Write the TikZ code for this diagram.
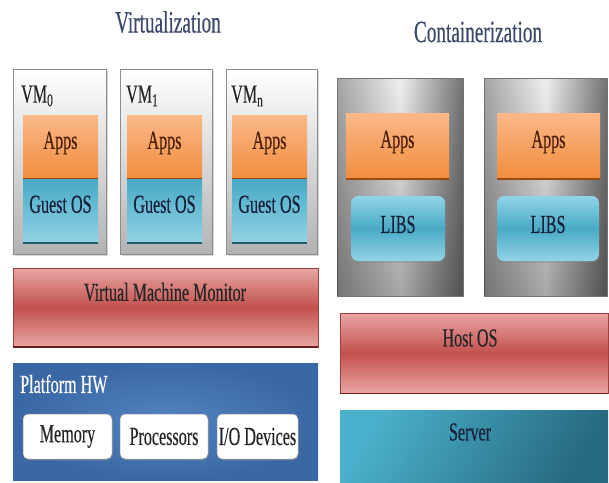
\documentclass[tikz,border=0pt]{standalone}
\usepackage{fontspec}
\setmainfont{Liberation Serif}[FakeStretch=0.62, FakeBold=0.35]
\usetikzlibrary{shadows,fadings}
\definecolor{titlecol}{HTML}{3B4A6B}
\definecolor{appslight}{HTML}{FAB988}
\definecolor{appsdark}{HTML}{F28C3E}
\definecolor{appsline}{HTML}{9C4A12}
\definecolor{appstext}{HTML}{4A1E0A}
\definecolor{cyandark}{HTML}{49AAC5}
\definecolor{cyanlight}{HTML}{92D4E6}
\definecolor{cyanline}{HTML}{215967}
\definecolor{redlight}{HTML}{E9A5A3}
\definecolor{reddark}{HTML}{C2514E}
\definecolor{redline}{HTML}{6E1F1D}
\definecolor{hwblue}{HTML}{3A68A4}
\definecolor{hwbluelight}{HTML}{5283C0}
\definecolor{serverlight}{HTML}{4BB0CB}
\definecolor{serverdark}{HTML}{276A80}
\definecolor{darktext}{HTML}{16213A}
\newcommand\mybodyfont{\fontsize{26}{30}\selectfont}
\newcommand\mytitlefont{\fontsize{31}{34}\selectfont}
\tikzset{
  boxbase/.style={rectangle, anchor=north west, inner sep=0pt, outer sep=0pt},
  vmframe/.style={boxbase, draw=black!45, line width=0.6pt, top color=white, bottom color=black!30,
    drop shadow={opacity=0.3, shadow xshift=2pt, shadow yshift=-2pt}},
  ctframe/.style={boxbase, draw=black!55, line width=0.6pt, left color=black!35, right color=black!55, middle color=black!6},
  ctshade/.style={fill=black, opacity=0.3, path fading=north},
  appsbox/.style={boxbase, top color=appslight, bottom color=appsdark},
  guestbox/.style={boxbase, top color=cyandark, bottom color=cyanlight},
  libsbox/.style={boxbase, rounded corners=7pt, top color=cyanlight, bottom color=cyanlight, middle color=cyandark,
    drop shadow={opacity=0.45, shadow xshift=0pt, shadow yshift=-1.5pt}},
  redbox/.style={boxbase, draw=reddark!80!black, line width=0.4pt, top color=redlight, bottom color=redlight, middle color=reddark},
  hwbox/.style={boxbase, shading=radial, inner color=hwbluelight, outer color=hwblue},
  serverbox/.style={boxbase, left color=serverlight, right color=serverdark, shading angle=60},
  devbox/.style={boxbase, rounded corners=5pt, fill=white, draw=black!40, line width=0.5pt,
    drop shadow={opacity=0.35, shadow xshift=1pt, shadow yshift=-1.5pt}},
  txt/.style={inner sep=0pt, font=\mybodyfont, text=darktext},
  appstxt/.style={txt, text=appstext},
  titletxt/.style={inner sep=0pt, font=\mytitlefont, text=titlecol},
  edgeline/.style={line width=1.6pt},
}
\begin{document}
\begin{tikzpicture}[x=1pt,y=-1pt]
\useasboundingbox (0,0) rectangle (609,482);
\fill[white] (0,0) rectangle (609,482);

% titles
\node[titletxt] (t-virt) at (168,22) {Virtualization};
\node[titletxt] (t-cont) at (478,32) {Containerization};

% VM frames
\node[vmframe, minimum width=93, minimum height=185] (vm0) at (13,69) {};
\node[vmframe, minimum width=92, minimum height=185] (vm1) at (120,69) {};
\node[vmframe, minimum width=91, minimum height=185] (vmn) at (226,69) {};

\node[txt, anchor=west, text=black!85] (vm0-l) at (21,96) {VM\textsubscript{0}};
\node[txt, anchor=west, text=black!85] (vm1-l) at (126,96) {VM\textsubscript{1}};
\node[txt, anchor=west, text=black!85] (vmn-l) at (231,96) {VM\textsubscript{n}};

% Apps / Guest OS in VMs
\foreach \nm/\x/\w in {a/23/75, b/127/75, c/232/75}{
  \node[appsbox, minimum width=\w, minimum height=64] (apps-\nm) at (\x,115) {};
  \draw[appsline, edgeline] (apps-\nm.south west) -- (apps-\nm.south east);
  \node[guestbox, minimum width=\w, minimum height=63] (guest-\nm) at (\x,179.8) {};
  \draw[cyanline, edgeline] (guest-\nm.south west) -- (guest-\nm.south east);
  \node[appstxt] (apps-\nm-t) at ([yshift=4pt]apps-\nm.center) {Apps};
  \node[txt] (guest-\nm-t) at ([yshift=7pt]guest-\nm.center) {Guest OS};
}

% VMM
\node[redbox, minimum width=305, minimum height=79] (vmm) at (13,268) {};
\draw[redline, edgeline] (vmm.south west) -- (vmm.south east);
\node[txt, text=black!85] (vmm-t) at (165,292) {Virtual Machine Monitor};

% Platform HW
\node[hwbox, minimum width=305, minimum height=117] (hw) at (13,363) {};
\node[txt, anchor=west, text=white] (hw-t) at (20,384) {Platform HW};
\node[devbox, minimum width=89, minimum height=45] (mem) at (23,414) {};
\node[devbox, minimum width=88, minimum height=45] (proc) at (120,414) {};
\node[devbox, minimum width=81, minimum height=45] (io) at (217,414) {};
\node[txt, text=black!85] (mem-t) at (mem.center) {Memory};
\node[txt, text=black!85] (proc-t) at (proc.center) {Processors};
\node[txt, text=black!85] (io-t) at (io.center) {I/O Devices};

% Containers
\node[ctframe, minimum width=126, minimum height=218] (c1) at (337,78) {};
\node[ctframe, minimum width=123, minimum height=218] (c2) at (484,78) {};
\fill[ctshade] (c1.north west) rectangle (c1.south east);
\fill[ctshade] (c2.north west) rectangle (c2.south east);
\foreach \nm/\xa/\xl/\wl in {a/346/351/94, b/497/497/102}{
  \node[appsbox, minimum width=103, minimum height=66] (capps-\nm) at (\xa,113) {};
  \draw[appsline, edgeline] (capps-\nm.south west) -- (capps-\nm.south east);
  \node[appstxt] (capps-\nm-t) at ([yshift=4pt]capps-\nm.center) {Apps};
  \node[libsbox, minimum width=\wl, minimum height=65] (libs-\nm) at (\xl,196) {};
  \node[txt] (libs-\nm-t) at ([yshift=4pt]libs-\nm.center) {LIBS};
}

% Host OS and Server
\node[redbox, minimum width=268, minimum height=80] (host) at (340,313) {};
\draw[redline, line width=1pt] (host.south west) -- (host.south east);
\node[txt, text=black!85] (host-t) at (470,338) {Host OS};
\node[serverbox, minimum width=268, minimum height=72] (server) at (340,410) {};
\node[txt] (server-t) at (470,432) {Server};
\end{tikzpicture}
\end{document}
